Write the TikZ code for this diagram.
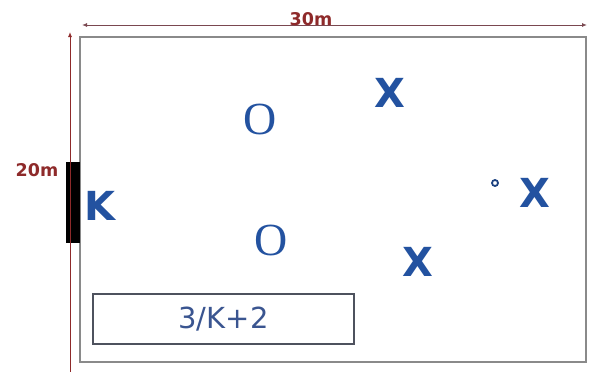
\documentclass[tikz,border=0pt]{standalone}
\usepackage{fontspec}
\setmainfont{DejaVu Sans}
\newfontfamily\serifO{Liberation Serif}
\usetikzlibrary{arrows.meta}
\definecolor{dimred}{HTML}{8E2A2A}
\definecolor{dimline}{HTML}{7A4850}
\definecolor{playblue}{HTML}{2352A0}
\definecolor{boxtext}{HTML}{3A5590}
\definecolor{fieldgray}{HTML}{8A8A8A}
\definecolor{boxgray}{HTML}{4E525E}
\tikzset{
  player/.style={text=playblue, font=\fontsize{40}{40}\selectfont\bfseries, inner sep=0pt},
  opp/.style={text=playblue, font=\serifO\fontsize{46}{46}\selectfont, inner sep=0pt},
  dimlabel/.style={text=dimred, font=\fontsize{17.5}{17.5}\selectfont\bfseries, inner sep=1pt},
  dimarrow/.style={draw=dimline, line width=0.9pt, -{Latex[length=5pt,width=4pt]}},
}
\begin{document}
\begin{tikzpicture}[x=1pt,y=-1pt]
\useasboundingbox (0,0) rectangle (589,372);
% field
\draw[fieldgray, line width=1.8pt] (80,37) rectangle (586,362);
% dimension lines
\coordinate (tl) at (82,25);
\coordinate (tr) at (587,25);
\draw[dimarrow, {Latex[length=5pt,width=4pt]}-{Latex[length=5pt,width=4pt]}] (tl) -- (tr);
\node[dimlabel] (w) at (311,19) {30m};
\coordinate (lb) at (70,372);
\coordinate (lt) at (70,32);
\draw[dimarrow, draw=dimred] (lb) -- (lt);
% goal
\fill[black] (66,162) rectangle (80,243);
\draw[dimred, line width=0.8pt] (70,162) -- (70,243);
\node[dimlabel] (h) at (37,170) {20m};
% players
\node[player] (k) at (100,206) {K};
\node[opp] (o1) at (260,119) {O};
\node[opp] (o2) at (271,240) {O};
\node[player] (x1) at (390,93) {X};
\node[player] (x2) at (418,262) {X};
\node[player] (x3) at (535,193) {X};
\draw[playblue!80!black, line width=1.8pt] (495,183) circle (3pt);
% formula box
\node[draw=boxgray, line width=1.6pt, minimum width=261pt, minimum height=50pt, inner sep=0pt, text=boxtext, font=\fontsize{29}{29}\selectfont] (f) at (223.5,319) {3/K+2};
\end{tikzpicture}
\end{document}
